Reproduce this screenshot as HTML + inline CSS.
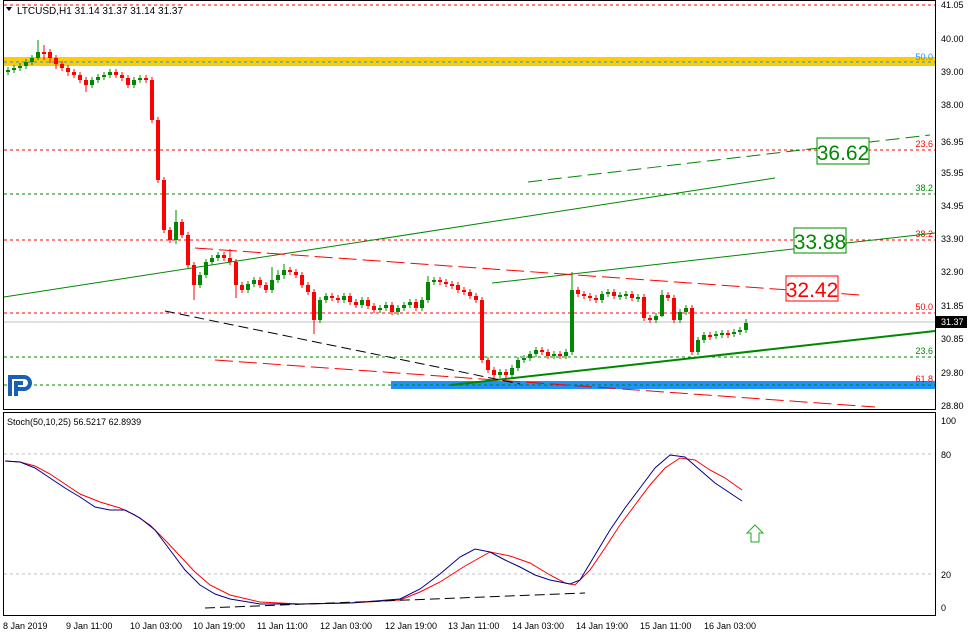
<!DOCTYPE html>
<html><head><meta charset="utf-8"><style>
html,body{margin:0;padding:0;background:#fff;}
svg{display:block;font-family:"Liberation Sans",sans-serif;}
</style></head><body>
<svg width="975" height="636" viewBox="0 0 975 636" xmlns="http://www.w3.org/2000/svg">
<rect width="975" height="636" fill="#fff"/>
<rect x="3.5" y="0.5" width="932" height="409" fill="none" stroke="#000"/>
<rect x="3.5" y="412.5" width="932" height="203" fill="none" stroke="#000"/>
<line x1="4" y1="5" x2="935" y2="5" stroke="#f00" stroke-dasharray="3,3"/>
<rect x="4" y="57" width="931" height="9" fill="#ffcc00"/>
<line x1="4" y1="62" x2="935" y2="62" stroke="#1e90ff" stroke-dasharray="3,3"/>
<line x1="4" y1="150" x2="935" y2="150" stroke="#f00" stroke-dasharray="3,3"/>
<line x1="4" y1="194" x2="935" y2="194" stroke="#080" stroke-dasharray="3,3"/>
<line x1="4" y1="240" x2="935" y2="240" stroke="#f00" stroke-dasharray="3,3"/>
<line x1="4" y1="313" x2="935" y2="313" stroke="#f00" stroke-dasharray="3,3"/>
<line x1="4" y1="322" x2="935" y2="322" stroke="#c0c0c0"/>
<line x1="4" y1="357" x2="935" y2="357" stroke="#080" stroke-dasharray="3,3"/>
<rect x="391" y="381" width="544" height="8" fill="#1e90ff"/>
<line x1="4" y1="385" x2="935" y2="385" stroke="#080" stroke-dasharray="3,3"/>
<g font-size="9" text-anchor="end">
<text x="933" y="60" fill="#1e90ff">50.0</text>
<text x="933" y="147" fill="#f00">23.6</text>
<text x="933" y="191" fill="#080">38.2</text>
<text x="933" y="237" fill="#f00">38.2</text>
<text x="933" y="310" fill="#f00">50.0</text>
<text x="933" y="354" fill="#080">23.6</text>
<text x="933" y="382" fill="#f00">61.8</text>
</g>
<line x1="4" y1="297" x2="775" y2="178" stroke="#080"/>
<line x1="492" y1="283" x2="935" y2="233" stroke="#080"/>
<line x1="528" y1="182" x2="930" y2="135" stroke="#080" stroke-dasharray="14,6"/>
<line x1="451" y1="385" x2="935" y2="331" stroke="#080" stroke-width="2"/>
<line x1="195" y1="248" x2="860" y2="295" stroke="#f00" stroke-dasharray="18,6"/>
<line x1="215" y1="360" x2="875" y2="407" stroke="#f00" stroke-dasharray="18,6"/>
<line x1="165" y1="311" x2="520" y2="384" stroke="#000" stroke-dasharray="10,5"/>
<!-- candles -->
<path fill="none" stroke="#080" d="M8 67v8M14 65v8M20 63v8M26 59v10M32 55v10M38 40v20M92 77v11M98 74v9M104 72v8M110 69v9M134 77v11M140 75v8M176 210v34M200 272v16M206 259v19M212 255v10M218 252v9M248 281v12M254 277v10M272 267v26M278 270v13M284 264v15M320 297v26M326 293v10M344 293v10M362 297v11M380 305v8M386 302v9M398 305v10M404 302v9M410 299v9M422 297v14M428 276v27M434 277v8M500 369v9M512 365v13M518 357v14M524 355v8M530 351v10M536 347v10M554 351v8M566 349v10M572 272v83M602 291v12M608 289v8M620 292v8M626 291v8M638 294v8M656 313v10M662 290v27M680 309v14M686 305v10M698 337v18M704 332v11M716 331v8M722 330v8M734 329v8M740 327v8M746 319v14"/>
<path fill="#080" d="M6 70h4v2h-4zM12 68h4v2h-4zM18 66h4v2h-4zM24 62h4v4h-4zM30 58h4v4h-4zM36 52h4v6h-4zM90 80h4v5h-4zM96 77h4v3h-4zM102 75h4v2h-4zM108 72h4v3h-4zM132 80h4v5h-4zM138 78h4v2h-4zM174 222h4v18h-4zM198 275h4v10h-4zM204 262h4v13h-4zM210 258h4v4h-4zM216 255h4v3h-4zM246 284h4v6h-4zM252 280h4v4h-4zM270 280h4v10h-4zM276 275h4v5h-4zM282 270h4v5h-4zM318 300h4v20h-4zM324 296h4v4h-4zM342 296h4v4h-4zM360 300h4v5h-4zM378 308h4v2h-4zM384 305h4v3h-4zM396 308h4v4h-4zM402 305h4v3h-4zM408 302h4v3h-4zM420 300h4v8h-4zM426 282h4v18h-4zM432 280h4v2h-4zM498 372h4v3h-4zM510 368h4v7h-4zM516 360h4v8h-4zM522 358h4v2h-4zM528 354h4v4h-4zM534 350h4v4h-4zM552 354h4v2h-4zM564 352h4v4h-4zM570 290h4v62h-4zM600 294h4v6h-4zM606 292h4v2h-4zM618 295h4v2h-4zM624 294h4v2h-4zM636 297h4v2h-4zM654 316h4v4h-4zM660 295h4v21h-4zM678 312h4v8h-4zM684 308h4v4h-4zM696 340h4v12h-4zM702 335h4v5h-4zM714 334h4v2h-4zM720 333h4v2h-4zM732 332h4v2h-4zM738 330h4v2h-4zM744 323h4v7h-4z"/>
<path fill="none" stroke="#f00" d="M44 45v15M50 49v14M56 55v14M62 61v10M68 65v11M74 69v9M80 72v11M86 77v15M116 69v9M122 72v9M128 75v13M146 75v8M152 77v46M158 117v66M164 177v56M170 227v16M182 219v19M188 232v36M194 262v38M224 252v9M230 249v16M236 259v39M242 282v11M260 277v11M266 282v11M290 267v8M296 269v9M302 272v16M308 282v13M314 289v45M332 293v8M338 295v8M350 293v12M356 299v9M368 297v12M374 303v10M392 302v13M416 299v12M440 277v8M446 279v8M452 281v8M458 282v11M464 287v8M470 289v10M476 293v10M482 297v66M488 357v16M494 367v11M506 369v9M542 347v8M548 349v10M560 351v8M578 287v10M584 291v8M590 293v8M596 295v8M614 289v10M632 291v10M644 294v27M650 315v8M668 292v9M674 295v28M692 305v50M710 332v8M728 330v8"/>
<path fill="#f00" d="M42 52h4v2h-4zM48 52h4v6h-4zM54 58h4v6h-4zM60 64h4v4h-4zM66 68h4v4h-4zM72 72h4v3h-4zM78 75h4v5h-4zM84 80h4v5h-4zM114 72h4v3h-4zM120 75h4v3h-4zM126 78h4v7h-4zM144 78h4v2h-4zM150 80h4v40h-4zM156 120h4v60h-4zM162 180h4v50h-4zM168 230h4v10h-4zM180 222h4v13h-4zM186 235h4v30h-4zM192 265h4v20h-4zM222 255h4v3h-4zM228 258h4v4h-4zM234 262h4v23h-4zM240 285h4v5h-4zM258 280h4v5h-4zM264 285h4v5h-4zM288 270h4v2h-4zM294 272h4v3h-4zM300 275h4v10h-4zM306 285h4v7h-4zM312 292h4v28h-4zM330 296h4v2h-4zM336 298h4v2h-4zM348 296h4v6h-4zM354 302h4v3h-4zM366 300h4v6h-4zM372 306h4v4h-4zM390 305h4v7h-4zM414 302h4v6h-4zM438 280h4v2h-4zM444 282h4v2h-4zM450 284h4v2h-4zM456 285h4v5h-4zM462 290h4v2h-4zM468 292h4v4h-4zM474 296h4v4h-4zM480 300h4v60h-4zM486 360h4v10h-4zM492 370h4v5h-4zM504 372h4v3h-4zM540 350h4v2h-4zM546 352h4v4h-4zM558 354h4v2h-4zM576 290h4v4h-4zM582 294h4v2h-4zM588 296h4v2h-4zM594 298h4v2h-4zM612 292h4v4h-4zM630 294h4v4h-4zM642 297h4v21h-4zM648 318h4v2h-4zM666 295h4v3h-4zM672 298h4v22h-4zM690 308h4v44h-4zM708 335h4v2h-4zM726 333h4v2h-4z"/>
<rect x="817" y="138" width="52" height="26" fill="#fff" stroke="#080"/>
<text x="843" y="160" font-size="21" fill="#080" text-anchor="middle">36.62</text>
<rect x="794" y="228" width="52" height="25" fill="#fff" stroke="#080"/>
<text x="820" y="249" font-size="21" fill="#080" text-anchor="middle">33.88</text>
<rect x="786" y="276" width="52" height="25" fill="#fff" stroke="#f00"/>
<text x="812" y="297" font-size="21" fill="#f00" text-anchor="middle">32.42</text>
<path d="M6 7 L12 7 L9 11 Z" fill="#000"/>
<text x="17" y="14" font-size="10" fill="#000">LTCUSD,H1  31.14 31.37 31.14 31.37</text>
<rect x="8" y="374" width="24" height="24" fill="#fff"/>
<path d="M10 396 V377 H24 A6 6 0 0 1 24 389 H16 M16 396 V383 H23" fill="none" stroke="#1a5fb4" stroke-width="4"/>
<g font-size="9" fill="#000">
<text x="941" y="8">41.05</text><text x="941" y="42">40.00</text><text x="941" y="75">39.00</text>
<text x="941" y="108">38.00</text><text x="941" y="145">36.95</text>
<text x="941" y="176">35.95</text><text x="941" y="209">34.95</text><text x="941" y="242">33.90</text>
<text x="941" y="275">32.90</text><text x="941" y="309">31.85</text><text x="941" y="342">30.85</text>
<text x="941" y="376">29.80</text><text x="941" y="409">28.80</text>
</g>
<rect x="936" y="316" width="31" height="12" fill="#000"/>
<text x="941" y="325" font-size="9" fill="#fff">31.37</text>
<text x="7" y="425" font-size="9">Stoch(50,10,25) 56.5217 62.8939</text>
<line x1="4" y1="454" x2="935" y2="454" stroke="#c0c0c0" stroke-dasharray="3,3"/>
<line x1="4" y1="574" x2="935" y2="574" stroke="#c0c0c0" stroke-dasharray="3,3"/>
<g font-size="9"><text x="941" y="424">100</text><text x="941" y="458">80</text><text x="941" y="578">20</text><text x="941" y="611">0</text></g>
<polyline fill="none" stroke="#f00" points="5,461 20,462 35,466 50,474 65,484 80,494 100,502 120,508 135,515 150,525 165,540 180,556 195,572 210,585 230,595 260,602 300,604 350,603 400,600 420,592 440,582 465,566 490,552 510,556 530,563 550,575 565,583 575,585 590,570 605,548 620,525 635,505 650,485 665,468 680,458 695,460 710,470 725,478 742,490"/>
<polyline fill="none" stroke="#00008b" points="5,461 20,462 35,468 50,478 65,488 80,497 95,507 110,510 125,510 140,518 155,530 170,550 185,570 200,585 215,594 230,599 260,604 300,604 350,603 400,599 420,589 440,574 460,557 475,549 490,552 505,560 520,567 535,575 550,580 570,584 580,580 595,555 610,530 625,508 640,488 655,468 670,455 685,457 700,470 715,483 730,493 742,501"/>
<line x1="205" y1="608" x2="585" y2="593" stroke="#000" stroke-dasharray="10,5"/>
<path d="M751 542 V533 H747 L755 525 L763 533 H759 V542 Z" fill="none" stroke="#2a2"/>
<g font-size="9" fill="#000">
<text x="3" y="629">8 Jan 2019</text><text x="66" y="629">9 Jan 11:00</text><text x="130" y="629">10 Jan 03:00</text>
<text x="193" y="629">10 Jan 19:00</text><text x="257" y="629">11 Jan 11:00</text><text x="320" y="629">12 Jan 03:00</text>
<text x="385" y="629">12 Jan 19:00</text><text x="448" y="629">13 Jan 11:00</text><text x="512" y="629">14 Jan 03:00</text>
<text x="576" y="629">14 Jan 19:00</text><text x="640" y="629">15 Jan 11:00</text><text x="704" y="629">16 Jan 03:00</text>
</g>
</svg>
</body></html>
